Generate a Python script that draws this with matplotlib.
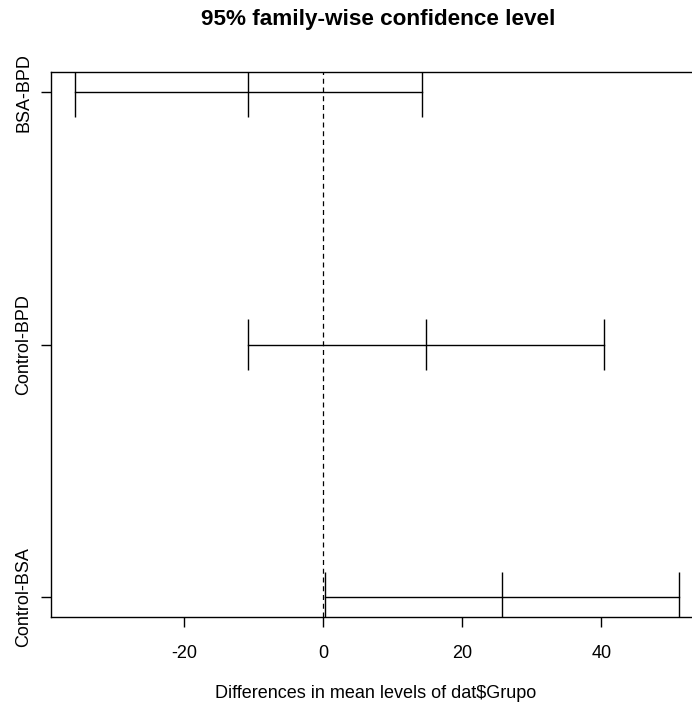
import matplotlib
matplotlib.use("Agg")
import matplotlib.pyplot as plt

# Tukey HSD comparisons (95% family-wise confidence intervals)
comparisons = ["BSA-BPD", "Control-BPD", "Control-BSA"]
diff = [-10.8, 14.8, 25.7]
lwr = [-35.7, -10.8, 0.3]
upr = [14.2, 40.4, 51.2]
xticks = [-20, 0, 20, 40]

plt.rcParams["font.family"] = ["Liberation Sans", "DejaVu Sans"]

W, H = 692, 704
fig = plt.figure(figsize=(W / 100, H / 100), dpi=100)

# x range: data range padded by 4% (as R does)
lo, hi = min(lwr), max(upr)
pad = 0.04 * (hi - lo)
xlim = (lo - pad, hi + pad)
n = len(comparisons)
ylim = (1 - 0.04 * (n - 1), n + 0.04 * (n - 1))

px_per_unit = 6.95
left_px, top_px, bottom_px = 51, 72, 617
width_px = (xlim[1] - xlim[0]) * px_per_unit
ax = fig.add_axes([left_px / W, (H - bottom_px) / H, width_px / W, (bottom_px - top_px) / H])
ax.set_xlim(*xlim)
ax.set_ylim(*ylim)

yvals = list(range(n, 0, -1))
lw = 1.0
for y, d, l, u in zip(yvals, diff, lwr, upr):
    ax.plot([l, u], [y, y], color="black", lw=lw)
    ax.vlines([l, d, u], y - 0.1, y + 0.1, color="black", lw=lw)

ax.axvline(0, color="black", lw=0.9, linestyle=(0, (4, 3)))

for s in ax.spines.values():
    s.set_linewidth(1.0)

ax.set_xticks(xticks)
ax.set_xticklabels([str(t) for t in xticks], fontsize=13)
ax.set_yticks(yvals)
ax.set_yticklabels(comparisons, rotation=90, va="center", fontsize=13)
ax.tick_params(axis="both", length=7.5, width=1.0)
ax.tick_params(axis="x", pad=13)
ax.tick_params(axis="y", pad=6)

fig.text(378 / W, 1 - 20 / H, "95% family-wise confidence level",
         ha="center", va="center", fontsize=16.2, fontweight="bold")
fig.text(376 / W, 1 - 694 / H, "Differences in mean levels of dat$Grupo",
         ha="center", va="center", fontsize=13)

fig.savefig("out.png", dpi=100)
